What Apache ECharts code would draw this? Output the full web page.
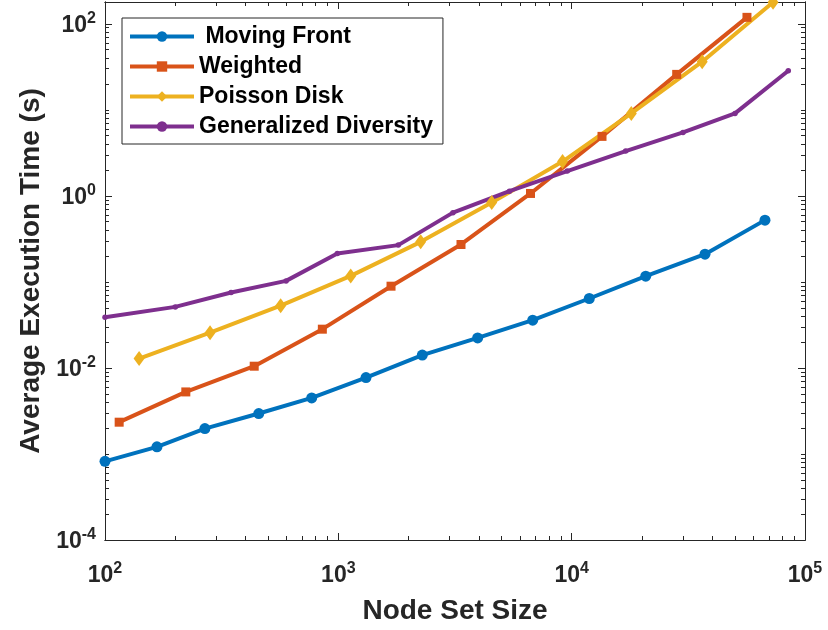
<!DOCTYPE html>
<html>
<head>
<meta charset="utf-8">
<script src="https://cdn.jsdelivr.net/npm/echarts@6/dist/echarts.min.js"></script>
<style>
  html, body { margin: 0; padding: 0; background: #fff; }
  #chart { width: 828px; height: 630px; }
</style>
</head>
<body>
<div id="chart"></div>
<script>
// values (log-log)
const mfN = [100, 167, 268, 456, 769, 1314, 2290, 3955, 6808, 11900, 20770, 37270, 67370];
const mfT = [8.2e-4, 1.21e-3, 1.97e-3, 2.95e-3, 4.48e-3, 7.73e-3, 0.0141, 0.0223, 0.0359, 0.0641, 0.1165, 0.210, 0.522];
const wN = [115, 222, 436, 854, 1682, 3355, 6663, 13490, 28190, 56400];
const wT = [2.34e-3, 5.26e-3, 0.01047, 0.0282, 0.0891, 0.272, 1.066, 4.91, 25.8, 118.7];
const pdN = [140, 282, 566, 1130, 2254, 4543, 9140, 18010, 36250, 72950];
const pdT = [0.01286, 0.02566, 0.0529, 0.1174, 0.2917, 0.834, 2.50, 9.08, 36.2, 178];
const gdN = [100, 200, 347, 597, 990, 1807, 3099, 5413, 9573, 17040, 30000, 50120, 84800];
const gdT = [0.0389, 0.0512, 0.0753, 0.1027, 0.2138, 0.2674, 0.6377, 1.134, 1.938, 3.31, 5.46, 9.08, 28.4];

const seriesNames = [' Moving Front', 'Weighted', 'Poisson Disk', 'Generalized Diversity'];

const xLabelVals = [100, 1000, 10000, 100000];
const yLabelVals = [1e-4, 1e-2, 1, 100];
const xDecades = [100, 1000, 10000];
const yDecades = [1e-4, 1e-3, 1e-2, 1e-1, 1, 10, 100];
const mantissas = [2, 3, 4, 5, 6, 7, 8, 9];

const ink = '#262626';
const font = '"Liberation Sans", Arial, Helvetica, sans-serif';

// minor ticks: 2..9 in each decade, plus unlabeled decades
function minorTicks(decades, labeled) {
  const out = [];
  decades.forEach(d => {
    if (labeled.indexOf(d) < 0) out.push(d);
    mantissas.forEach(m => out.push(+(m * d).toPrecision(6)));
  });
  return out;
}
const xMinor = minorTicks(xDecades, xLabelVals);
const yMinor = minorTicks(yDecades, yLabelVals);

function powLabel(v) {
  const e = Math.round(Math.log10(v));
  return '{b|10}{s|' + e + '}';
}
const richLabel = {
  b: { fontFamily: font, fontWeight: 'bold', fontSize: 23, color: ink, verticalAlign: 'bottom' },
  s: { fontFamily: font, fontWeight: 'bold', fontSize: 16, color: ink, verticalAlign: 'bottom', padding: [0, 0, 10, 0] }
};
const titleStyle = { fontFamily: font, fontWeight: 'bold', fontSize: 28, color: ink };

function xAxisCfg(pos, ticks, len, withLabel) {
  const a = {
    type: 'log', logBase: 10, min: 100, max: 100000, position: pos,
    axisLine: { show: true, onZero: false, lineStyle: { color: ink, width: 1 } },
    axisTick: { show: true, inside: true, length: len, customValues: ticks, lineStyle: { color: ink, width: 1 } },
    axisLabel: { show: false },
    splitLine: { show: false }
  };
  if (withLabel) {
    a.axisLabel = { show: true, customValues: xLabelVals, margin: 21, formatter: powLabel, rich: richLabel };
    a.name = 'Node Set Size';
    a.nameLocation = 'middle';
    a.nameGap = 57;
    a.nameTextStyle = titleStyle;
  }
  return a;
}
function yAxisCfg(pos, ticks, len, withLabel) {
  const a = {
    type: 'log', logBase: 10, min: 1e-4, max: 179, position: pos,
    axisLine: { show: true, onZero: false, lineStyle: { color: ink, width: 1 } },
    axisTick: { show: true, inside: true, length: len, customValues: ticks, lineStyle: { color: ink, width: 1 } },
    axisLabel: { show: false },
    splitLine: { show: false }
  };
  if (withLabel) {
    a.axisLabel = { show: true, customValues: yLabelVals, margin: 9, formatter: powLabel, rich: richLabel };
    a.name = 'Average Execution Time (s)';
    a.nameLocation = 'middle';
    a.nameGap = 58;
    a.nameTextStyle = titleStyle;
  }
  return a;
}

function pairs(xs, ys) {
  return xs.map((x, i) => [x, ys[i]]);
}

const chart = echarts.init(document.getElementById('chart'), null, { renderer: 'canvas' });

chart.setOption({
  animation: false,
  backgroundColor: '#fff',
  grid: { left: 105, top: 2, width: 700, height: 538, containLabel: false },
  xAxis: [
    xAxisCfg('bottom', xLabelVals, 7, true),
    xAxisCfg('bottom', xMinor, 4, false),
    xAxisCfg('top', xLabelVals, 7, false),
    xAxisCfg('top', xMinor, 4, false)
  ],
  yAxis: [
    yAxisCfg('left', yLabelVals, 7, true),
    yAxisCfg('left', yMinor, 4, false),
    yAxisCfg('right', yLabelVals, 7, false),
    yAxisCfg('right', yMinor, 4, false)
  ],
  legend: {
    orient: 'vertical',
    left: 122,
    top: 18,
    padding: [7, 10, 6, 6],
    itemWidth: 64,
    itemHeight: 13,
    itemGap: 7,
    borderColor: ink,
    borderWidth: 1,
    backgroundColor: '#fff',
    lineStyle: { width: 4 },
    textStyle: { fontFamily: font, fontWeight: 'bold', fontSize: 23, lineHeight: 20, color: '#000', padding: [0, 0, 0, 0] },
    data: seriesNames
  },
  series: [
    {
      name: seriesNames[0], type: 'line', data: pairs(mfN, mfT),
      symbol: 'circle', symbolSize: 11,
      lineStyle: { width: 4, color: '#0072BD' },
      itemStyle: { color: '#0072BD' }
    },
    {
      name: seriesNames[1], type: 'line', data: pairs(wN, wT),
      symbol: 'rect', symbolSize: 9,
      lineStyle: { width: 4, color: '#D95319' },
      itemStyle: { color: '#D95319' }
    },
    {
      name: seriesNames[2], type: 'line', data: pairs(pdN, pdT),
      symbol: 'diamond', symbolSize: [11, 15],
      lineStyle: { width: 4, color: '#EDB120' },
      itemStyle: { color: '#EDB120' }
    },
    {
      name: seriesNames[3], type: 'line', data: pairs(gdN, gdT),
      symbol: 'circle', symbolSize: 5.5,
      lineStyle: { width: 4, color: '#7E2F8E' },
      itemStyle: { color: '#7E2F8E' }
    }
  ]
});
</script>
</body>
</html>
